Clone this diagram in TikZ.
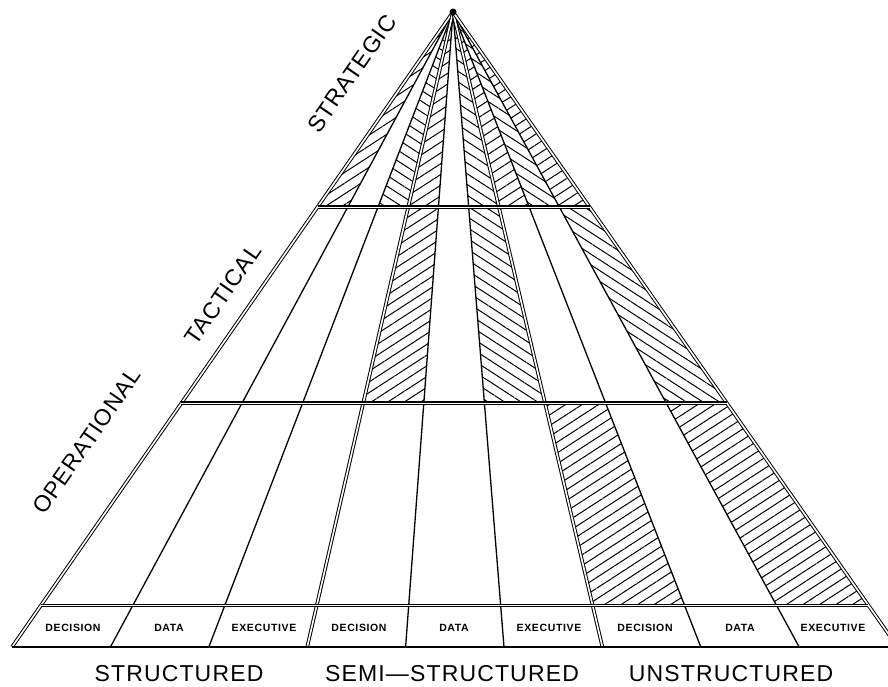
\documentclass[tikz,border=0pt]{standalone}
\usepackage{fontspec}
\setmainfont{Liberation Sans}
\usetikzlibrary{calc,patterns.meta}
\begin{document}
\begin{tikzpicture}[x=1pt,y=-1pt,
  ray/.style={line width=1.3pt},
  dray/.style={line width=1pt,double distance=1.6pt},
  bandline/.style={line width=1.2pt,double distance=1pt},
  hR/.style={pattern={Lines[angle=33,distance=9pt,line width=1pt]}},
  hL/.style={pattern={Lines[angle=-33,distance=9pt,line width=1pt]}},
  level/.style={rotate=55.2,inner sep=0pt,font=\fontsize{23}{26}\selectfont\addfontfeature{LetterSpace=4}},
  cat/.style={inner sep=0pt,font=\fontsize{23}{26}\selectfont\addfontfeature{LetterSpace=5}},
  sys/.style={inner sep=0pt,font=\fontsize{10.5}{12}\selectfont\bfseries\addfontfeature{LetterSpace=6}}
]
\useasboundingbox (0,0) rectangle (888,686);
\clip (0,0) rectangle (888,686);

\coordinate (A) at (453,12);
\foreach \i in {0,...,9} { \coordinate (B\i) at ({12+98.4*\i},647); }

\def\tS{0.30709}\def\tT{0.61575}\def\tO{0.93228}\def\tB{0.93433}
\newcommand\hcell[5]{\path[#5] ($(A)!#3!(B#1)$) -- ($(A)!#4!(B#1)$) -- ($(A)!#4!(B#2)$) -- ($(A)!#3!(B#2)$) -- cycle;}

% strategic
\hcell{0}{1}{0}{\tS}{hR}
\hcell{2}{3}{0}{\tS}{hL}
\hcell{3}{4}{0}{\tS}{hR}
\hcell{5}{6}{0}{\tS}{hL}
\hcell{6}{7}{0}{\tS}{hR}
\hcell{7}{8}{0}{\tS}{hL}
\hcell{8}{9}{0}{\tS}{hR}
% tactical
\hcell{3}{4}{\tS}{\tT}{hR}
\hcell{5}{6}{\tS}{\tT}{hL}
\hcell{8}{9}{\tS}{\tT}{hL}
% operational
\hcell{6}{7}{\tT}{\tO}{hR}
\hcell{8}{9}{\tT}{\tO}{hR}

\foreach \i in {1,2,4,5,7,8} \draw[ray] (A) -- (B\i);
\foreach \i in {0,3,6,9} \draw[dray] (A) -- (B\i);
\draw[bandline] ($(A)!\tS!(B0)$) -- ($(A)!\tS!(B9)$);
\draw[bandline] ($(A)!\tT!(B0)$) -- ($(A)!\tT!(B9)$);
\draw[bandline] ($(A)!\tB!(B0)$) -- ($(A)!\tB!(B9)$);
\draw[ray] (B0) -- (B9);
\fill (A) circle (3.5);

\coordinate (pS) at ($(A)!0.14!(B0)$);
\coordinate (pT) at ($(A)!0.47!(B0)$);
\coordinate (pO) at ($(A)!0.726!(B0)$);
\node[level] (strat) at ($(pS)!48pt!90:(A)$) {STRATEGIC};
\node[level] (tact) at ($(pT)!28pt!90:(A)$) {TACTICAL};
\node[level] (oper) at ($(pO)!56pt!90:(A)$) {OPERATIONAL};

\foreach \n/\x/\t in {d1/73/DECISION,a1/169/DATA,e1/264/EXECUTIVE,d2/359/DECISION,a2/454/DATA,e2/549/EXECUTIVE,d3/645/DECISION,a3/740/DATA,e3/833/EXECUTIVE}
  \node[sys] (\n) at (\x,628) {\t};

\node[cat] (structured) at (179,674) {STRUCTURED};
\node[cat] (semi) at (452,674) {SEMI—STRUCTURED};
\node[cat] (unstructured) at (731,674) {UNSTRUCTURED};
\end{tikzpicture}
\end{document}
